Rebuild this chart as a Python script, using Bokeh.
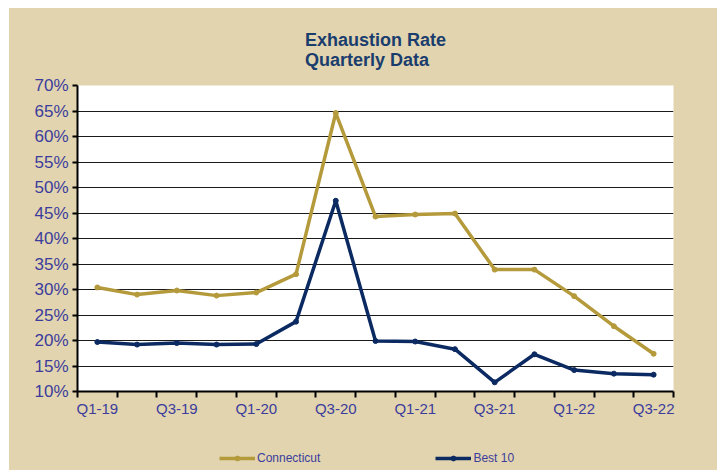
from bokeh.plotting import figure
from bokeh.layouts import column
from bokeh.models import FixedTicker, NumeralTickFormatter, Title, Legend, LegendItem, Range1d
from bokeh.embed import file_html
from bokeh.resources import INLINE

quarters = ["Q1-19", "Q2-19", "Q3-19", "Q4-19", "Q1-20", "Q2-20", "Q3-20", "Q4-20",
            "Q1-21", "Q2-21", "Q3-21", "Q4-21", "Q1-22", "Q2-22", "Q3-22"]
connecticut = [0.304, 0.290, 0.298, 0.288, 0.294, 0.330, 0.646, 0.443, 0.447, 0.449,
               0.339, 0.339, 0.287, 0.228, 0.174]
best10 = [0.197, 0.192, 0.195, 0.192, 0.193, 0.237, 0.474, 0.199, 0.198, 0.183,
          0.118, 0.173, 0.142, 0.135, 0.133]
y_ticks = [0.10, 0.15, 0.20, 0.25, 0.30, 0.35, 0.40, 0.45, 0.50, 0.55, 0.60, 0.65, 0.70]
series_names = ["Connecticut", "Best 10"]

BEIGE = "#E1D4AF"
GOLD = "#B59A3C"
NAVY = "#0C2A62"
LABEL = "#3C3C9C"
TITLE = "#1A3D6E"
FONT = "Liberation Sans"

xs = list(range(len(quarters)))

p = figure(width=708, height=420, output_backend="svg", toolbar_location=None,
           x_range=Range1d(-0.5, len(quarters) - 0.5), y_range=Range1d(y_ticks[0], y_ticks[-1]),
           min_border_left=68, min_border_right=44, min_border_top=77, min_border_bottom=37)
p.title.visible = False
p.background_fill_color = "white"
p.border_fill_color = BEIGE
p.outline_line_color = None

p.add_layout(Title(text="Exhaustion Rate\nQuarterly Data", align="center", text_font=FONT,
                   text_font_size="18px", text_font_style="bold", text_color=TITLE,
                   text_line_height=1.0, standoff=32), "above")

p.line(xs, connecticut, line_color=GOLD, line_width=3.5)
p.scatter(xs, connecticut, size=5, marker="circle", fill_color=GOLD, line_color=GOLD)
p.line(xs, best10, line_color=NAVY, line_width=3.5)
p.scatter(xs, best10, size=5, marker="circle", fill_color=NAVY, line_color=NAVY)

# y axis
p.yaxis.ticker = FixedTicker(ticks=y_ticks)
p.yaxis.formatter = NumeralTickFormatter(format="0%")
p.yaxis.major_label_text_font = FONT
p.yaxis.major_label_text_font_size = "17px"
p.yaxis.major_label_text_color = LABEL
p.yaxis.axis_line_color = "black"
p.yaxis.axis_line_width = 2
p.yaxis.major_tick_line_color = "black"
p.yaxis.major_tick_line_width = 2
p.yaxis.major_tick_out = 5
p.yaxis.major_tick_in = 0
p.yaxis.minor_tick_line_color = None
p.yaxis.major_label_standoff = 4

# x axis: labels at every other category, ticks at category boundaries
p.xaxis.ticker = FixedTicker(ticks=xs[::2], minor_ticks=[i - 0.5 for i in range(len(quarters) + 1)])
p.xaxis.major_label_overrides = {i: quarters[i] for i in xs[::2]}
p.xaxis.major_label_text_font = FONT
p.xaxis.major_label_text_font_size = "15px"
p.xaxis.major_label_text_color = LABEL
p.xaxis.axis_line_color = "black"
p.xaxis.axis_line_width = 2
p.xaxis.major_tick_line_color = None
p.xaxis.major_tick_out = 5
p.xaxis.minor_tick_line_color = "black"
p.xaxis.minor_tick_line_width = 2
p.xaxis.minor_tick_out = 6
p.xaxis.minor_tick_in = 0
p.xaxis.major_label_standoff = 2

p.xgrid.grid_line_color = None
p.ygrid.ticker = FixedTicker(ticks=y_ticks)
p.ygrid.grid_line_color = "#1a1a1a"
p.ygrid.grid_line_width = 1

# legend strip below the chart (frame aligned with the main chart's frame)
lg = figure(width=708, height=42, output_backend="svg", toolbar_location=None,
            x_range=Range1d(0, 1), y_range=Range1d(0, 1),
            min_border_left=0, min_border_right=0, min_border_top=0, min_border_bottom=0)
lg.title.visible = False
lg.axis.visible = False
lg.grid.visible = False
lg.outline_line_color = None
lg.background_fill_alpha = 0
lg.border_fill_color = BEIGE
items = []
for name, col in zip(series_names, [GOLD, NAVY]):
    # placeholder renderers (outside the visible range) that only supply legend glyphs
    lr = lg.line([-5, -4], [-5, -4], line_color=col, line_width=3.5)
    sr = lg.scatter([-5], [-5], size=5, marker="circle", fill_color=col, line_color=col)
    items.append(LegendItem(label=name, renderers=[lr, sr]))
legend = Legend(items=items, orientation="horizontal", location=(142, 5),
                background_fill_alpha=0, border_line_color=None,
                label_text_font=FONT, label_text_font_size="12px", label_text_color=LABEL,
                glyph_width=36, glyph_height=12, label_standoff=2, spacing=115,
                padding=0, margin=0)
lg.add_layout(legend)

layout = column(p, lg, spacing=0, margin=(8, 0, 0, 9), styles={"background-color": BEIGE})
open("out.html", "w").write(file_html(layout, INLINE))
